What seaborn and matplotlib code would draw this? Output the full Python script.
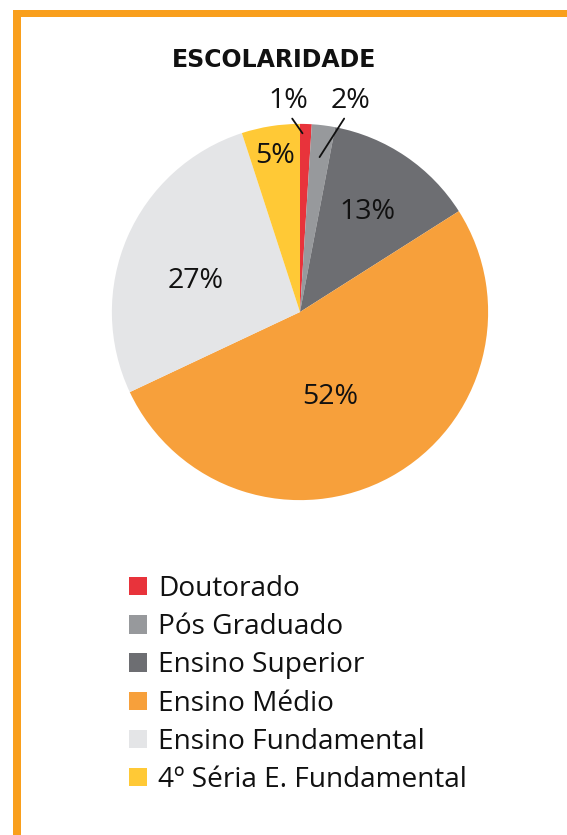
import numpy as np
import matplotlib
matplotlib.use("Agg")
import matplotlib.pyplot as plt
import matplotlib.patches as mpatches
import seaborn as sns

categories = ["Doutorado", "Pós Graduado", "Ensino Superior",
              "Ensino Médio", "Ensino Fundamental", "4º Séria E. Fundamental"]
values = [1, 2, 13, 52, 27, 5]
pct_labels = ["1%", "2%", "13%", "52%", "27%", "5%"]
colors = ["#E8333B", "#97999C", "#6D6E72", "#F7A03B", "#E4E5E7", "#FFC936"]

sns.set_theme(style="white")
plt.rcParams["font.family"] = ["Open Sans", "DejaVu Sans"]

fig = plt.figure(figsize=(5.67, 8.35), dpi=100)

# orange frame (top and left edges)
frame_col = "#F99F1C"
fig.add_artist(mpatches.Rectangle((13 / 567, 1 - 17 / 835), 1, 7 / 835,
                                  transform=fig.transFigure, color=frame_col, lw=0))
fig.add_artist(mpatches.Rectangle((13 / 567, 0), 8 / 567, 1 - 10 / 835,
                                  transform=fig.transFigure, color=frame_col, lw=0))

fig.text(274 / 567, 1 - 60 / 835, "ESCOLARIDADE", ha="center", va="center",
         fontsize=17, fontweight="heavy", color="#111111",
         family=["Liberation Sans Narrow", "DejaVu Sans"])

ax = fig.add_axes([110 / 567, 1 - 502 / 835, 380 / 567, 380 / 835])
wedges, _ = ax.pie(values, colors=colors, startangle=90, counterclock=False,
                   radius=1, wedgeprops=dict(linewidth=0))
ax.set_xlim(-1.01, 1.01)
ax.set_ylim(-1.01, 1.01)
ax.set_aspect("equal")
ax.axis("off")

# inside labels: (radial distance, angle shift in degrees) per wedge
inside = {2: (0.64, 0), 3: (0.48, -9), 4: (0.58, 7), 5: (0.84, 0)}
for i, w in enumerate(wedges):
    if i in inside:
        r, shift = inside[i]
        mid = np.deg2rad((w.theta1 + w.theta2) / 2 + shift)
        ax.text(r * np.cos(mid), r * np.sin(mid), pct_labels[i], ha="center",
                va="center", fontsize=20.5, color="#111111")

# small slices: labels outside with leader lines
outside = {0: (0.95, (-0.064, 1.12), 0.5), 1: (0.83, (0.266, 1.12), 0.45)}
for i, (r, xytext, rx) in outside.items():
    w = wedges[i]
    mid = np.deg2rad((w.theta1 + w.theta2) / 2 + (1 if i == 0 else 0))
    ax.annotate(pct_labels[i], xy=(r * np.cos(mid), r * np.sin(mid)),
                xytext=xytext, ha="center", va="center", fontsize=20.5,
                color="#111111",
                arrowprops=dict(arrowstyle="-", color="#111111", lw=1.3,
                                shrinkA=0, shrinkB=0, relpos=(rx, 0.1)))

fig.legend(wedges, categories, loc="upper left",
           bbox_to_anchor=(118 / 567, 1 - 564 / 835), frameon=False,
           fontsize=20.2, handlelength=0.62, handleheight=0.62,
           handletextpad=0.4, labelspacing=0.36, borderaxespad=0,
           labelcolor="#111111")

fig.savefig("out.png", dpi=100)
